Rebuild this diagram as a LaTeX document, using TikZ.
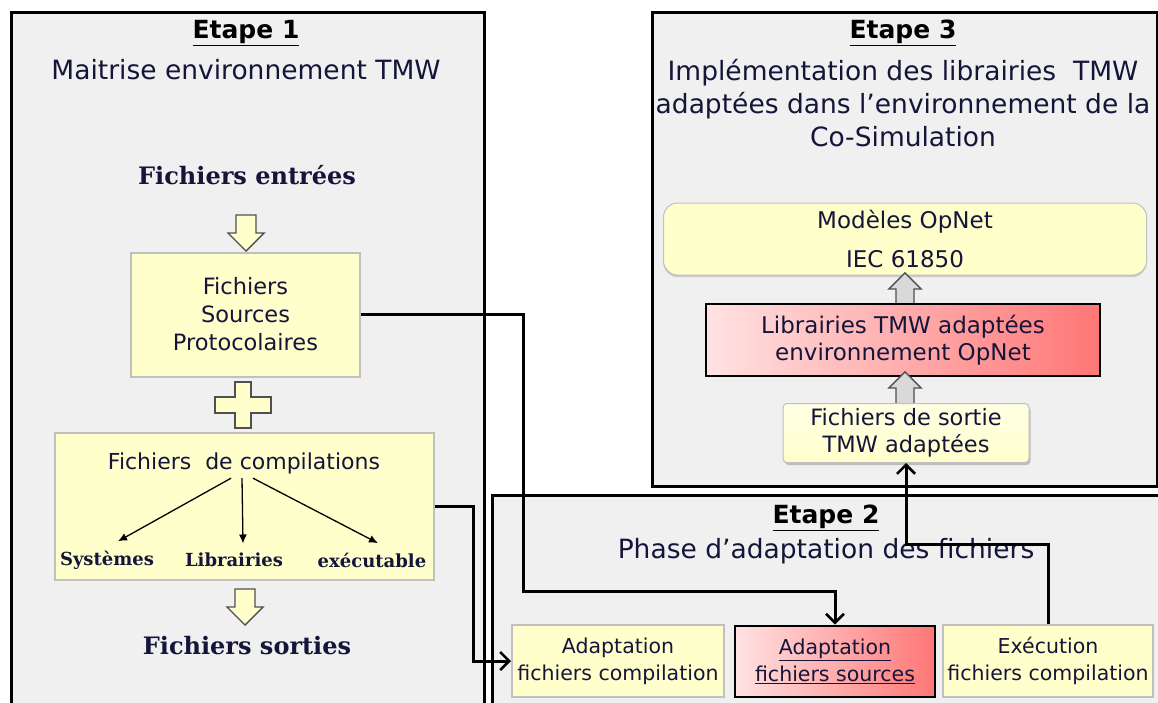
\documentclass[tikz,border=0pt]{standalone}
\usepackage{fontspec}
\setmainfont{DejaVu Sans}
\newfontfamily\serifbf{DejaVu Serif}
\usepackage{tikz}
\usetikzlibrary{arrows.meta,positioning,shadows}

\definecolor{stagegray}{HTML}{F0F0F0}
\definecolor{paleyellow}{HTML}{FFFFCC}
\definecolor{boxgray}{HTML}{C0C0C0}
\definecolor{arrowline}{HTML}{505050}
\definecolor{liftgray}{HTML}{D9D9D9}
\definecolor{redlight}{HTML}{FFE2E2}
\definecolor{reddark}{HTML}{FF7676}
\definecolor{inkblue}{HTML}{15153A}

\tikzset{
hollowarrow/.pic={
\path[pic actions] (-10,-18) -- (10,-18) -- (10,0) -- (18,0) -- (0,18) -- (-18,0) -- (-10,0) -- cycle;
}
}

\begin{document}
\begin{tikzpicture}[
x=1pt,y=-1pt,
stage/.style={draw,line width=3pt,fill=stagegray,anchor=north west,inner sep=0pt},
heading/.style={font=\fontsize{25}{28}\selectfont\bfseries},
subhead/.style={font=\fontsize{26.5}{33}\selectfont,align=center,text=inkblue},
serifhead/.style={font=\serifbf\bfseries\fontsize{24}{28}\selectfont,text=inkblue},
smallserif/.style={font=\serifbf\bfseries\fontsize{18}{22}\selectfont,text=inkblue},
yellowbox/.style={draw=boxgray,line width=2pt,fill=paleyellow,align=center,inner sep=0pt,text=inkblue,font=\fontsize{22.5}{28}\selectfont},
redbox/.style={draw,line width=2.8pt,left color=redlight,right color=reddark,align=center,inner sep=0pt,text=inkblue,font=\fontsize{23}{27}\selectfont},
scrollbox/.style={draw=boxgray,line width=1pt,fill=paleyellow,rounded corners=14pt,align=center,inner sep=0pt,text=inkblue,
  font=\fontsize{23}{39}\selectfont,drop shadow={shadow xshift=0pt,shadow yshift=-2pt,opacity=.35}},
sortiebox/.style={draw=boxgray,line width=1pt,top color=paleyellow!55,bottom color=paleyellow,rounded corners=4pt,align=center,inner sep=0pt,
  text=inkblue,font=\fontsize{22.5}{27}\selectfont,drop shadow={shadow xshift=1.5pt,shadow yshift=-2.5pt,opacity=.45}},
link/.style={line width=3pt,-{Straight Barb[length=9pt,width=18pt,line width=2.6pt]}},
subarrow/.style={line width=1.3pt,-{Latex[length=9pt,width=8pt]}},
yellowarrow/.style={fill=paleyellow,draw=arrowline,line width=1.4pt},
grayarrow/.style={fill=liftgray,draw=arrowline,line width=1.4pt}
]
\clip (0,0) rectangle (1158,702);

% Etape 1
\node[stage,minimum width=473,minimum height=720] (etape1) at (10,11) {};
\node[heading] (titre1) at (246,33) {\underline{Etape 1}};
\node[subhead] (sous1) at (246,70) {Maitrise environnement TMW};
\node[serifhead] (entrees) at (247,175) {Fichiers entrées};
\pic[yellowarrow] at (246,233) {hollowarrow};
\node[yellowbox,minimum width=229,minimum height=124] (sources) at (245.5,314.5) {Fichiers\\Sources\\Protocolaires};
\coordinate (plus) at (243,405);
\draw[yellowarrow] (plus) ++(-8,-23) -- ++(16,0) -- ++(0,15) -- ++(20,0) -- ++(0,16) -- ++(-20,0)
  -- ++(0,15) -- ++(-16,0) -- ++(0,-15) -- ++(-20,0) -- ++(0,-16) -- ++(20,0) -- cycle;
\node[yellowbox,minimum width=379,minimum height=147] (compil) at (244.5,506) {};
\node[font=\fontsize{22}{26}\selectfont,text=inkblue] (compiltitre) at (244,463) {Fichiers\ \ de compilations};
\node[smallserif] (systemes) at (107,560) {Systèmes};
\node[smallserif] (librairies) at (234,560) {Librairies};
\node[smallserif] (executable) at (372,560) {exécutable};
\draw[subarrow] ([xshift=-13pt,yshift=-1pt]compiltitre.south) -- ([xshift=11pt,yshift=6pt]systemes.north);
\draw[subarrow] ([xshift=-2pt,yshift=-1pt]compiltitre.south) -- ([xshift=9pt,yshift=6pt]librairies.north);
\draw[subarrow] ([xshift=9pt,yshift=-1pt]compiltitre.south) -- ([xshift=6pt,yshift=6pt]executable.north);
\pic[yellowarrow] at (245,607) {hollowarrow};
\node[serifhead] (sorties) at (247,646) {Fichiers sorties};

% Etape 3
\node[stage,minimum width=505,minimum height=474] (etape3) at (651,11) {};
\node[heading] (titre3) at (903,33) {\underline{Etape 3}};
\node[subhead] (sous3) at (903,103) {Implémentation des librairies\ \ TMW\\adaptées dans l'environnement de la\\Co-Simulation};
\node[scrollbox,minimum width=483,minimum height=72] (modeles) at (905,239) {Modèles OpNet\\IEC 61850};
\pic[grayarrow,rotate=180,scale=.9] at (905,289) {hollowarrow};
\node[redbox,minimum width=394,minimum height=72] (libopnet) at (903,340) {Librairies TMW adaptées\\environnement OpNet};
\pic[grayarrow,rotate=180,scale=.9] at (905,388) {hollowarrow};
\node[sortiebox,minimum width=246,minimum height=59] (sortie) at (906,433) {Fichiers de sortie\\TMW adaptées};

% Etape 2
\node[stage,minimum width=680,minimum height=220] (etape2) at (491,494) {};
\node[heading] (titre2) at (826,518) {\underline{Etape 2}};
\node[subhead] (sous2) at (826,551) {Phase d'adaptation des fichiers};
\node[yellowbox,minimum width=212,minimum height=72,font=\fontsize{20.5}{27}\selectfont] (adcomp) at (618,661) {Adaptation\\fichiers compilation};
\node[redbox,minimum width=200,minimum height=71,font=\fontsize{20.5}{27}\selectfont] (adsrc) at (835,661.5) {\underline{Adaptation}\\\underline{fichiers sources}};
\node[yellowbox,minimum width=210,minimum height=72,font=\fontsize{20.5}{27}\selectfont] (exec) at (1048,661) {Exécution\\fichiers compilation};

% liaisons
\coordinate (coude) at (523,591);
\draw[link] (sources.east) -| (coude) -| (adsrc.north);
\draw[link] (compil.east) -- ++(38,0) |- (adcomp.west);
\draw[link] (exec.north) -- ++(0,-80) -| (sortie.south);
\end{tikzpicture}
\end{document}
